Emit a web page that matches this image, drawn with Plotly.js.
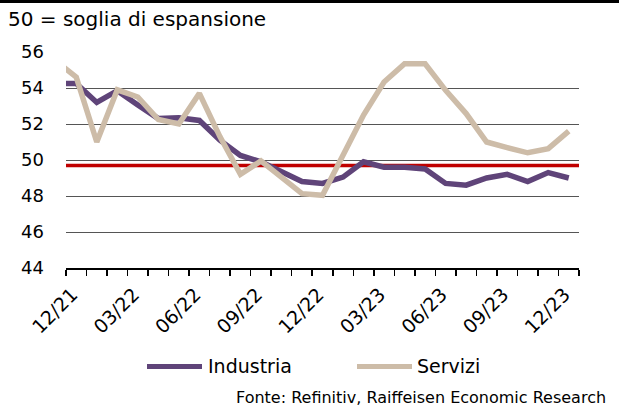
<!DOCTYPE html>
<html>
<head>
<meta charset="utf-8">
<script src="https://cdn.plot.ly/plotly-3.0.1.min.js"></script>
<style>
  html, body { margin: 0; padding: 0; background: #fff; }
  #chart { width: 619px; height: 417px; }
</style>
</head>
<body>
<div id="chart"></div>
<script>
// ---- Data ----
const months = ['11/21','12/21','01/22','02/22','03/22','04/22','05/22','06/22','07/22','08/22','09/22','10/22','11/22',
                '12/22','01/23','02/23','03/23','04/23','05/23','06/23','07/23','08/23','09/23','10/23','11/23','12/23'];
const industria = [54.25, 54.25, 53.2, 53.85, 53.05, 52.3, 52.35, 52.2, 51.1, 50.25, 49.9, 49.35, 48.8,
                   48.7, 49.05, 49.9, 49.6, 49.6, 49.5, 48.7, 48.6, 49.0, 49.2, 48.8, 49.3, 49.0];
const servizi   = [55.5, 54.6, 51.0, 53.9, 53.5, 52.25, 52.0, 53.7, 51.3, 49.2, 49.95, 49.05, 48.13,
                   48.04, 50.3, 52.5, 54.33, 55.35, 55.35, 53.87, 52.58, 51.0, 50.69, 50.4, 50.63, 51.6];
const seriesNames = ['Industria', 'Servizi'];
const tickLabels = ['12/21','03/22','06/22','09/22','12/22','03/23','06/23','09/23','12/23'];
const yTicks = [44, 46, 48, 50, 52, 54, 56];
const threshold = 49.7;
const titleText = '50 = soglia di espansione';
const sourceText = 'Fonte: Refinitiv, Raiffeisen Economic Research';

// ---- Layout helpers ----
const W = 619, H = 417;
const M = {l: 66, r: 40, t: 52, b: 149};
const plotW = W - M.l - M.r, plotH = H - M.t - M.b;
const px2x = px => (px - M.l) / plotW;
const py2y = py => (H - M.b - py) / plotH;
const labelShift = -0.2; // small horizontal nudge of rotated tick labels

const firstIdx = months.indexOf('12/21');
const xs = months.map((m, i) => i - firstIdx);
const tickvals = tickLabels.map(l => months.indexOf(l) - firstIdx + labelShift);

const FONT = 'DejaVu Sans, sans-serif';
const purple = '#5f4479';
const beige = '#cdbca8';
const red = '#c00000';

const traces = [
  {x: xs, y: industria, name: seriesNames[0], type: 'scatter', mode: 'lines',
   line: {color: purple, width: 5.5}, showlegend: false, hoverinfo: 'skip'},
  {x: xs, y: servizi, name: seriesNames[1], type: 'scatter', mode: 'lines',
   line: {color: beige, width: 5.5}, showlegend: false, hoverinfo: 'skip'}
];

const layout = {
  width: W, height: H,
  margin: M,
  paper_bgcolor: '#fff', plot_bgcolor: '#fff',
  font: {family: FONT, color: '#000', size: 18},
  title: {text: titleText, font: {family: FONT, size: 20, color: '#000'},
          x: 8 / W, xanchor: 'left', xref: 'container',
          y: 1 - 19 / H, yanchor: 'middle', yref: 'container', pad: {l: 0, t: 0}},
  xaxis: {
    type: 'linear', range: [-0.5, 24.5], showgrid: false, zeroline: false,
    showline: true, linecolor: '#000', linewidth: 2,
    tickmode: 'array', tickvals: tickvals, ticktext: tickLabels,
    ticks: '', tickangle: -45, ticklabelstandoff: 6,
    tickfont: {family: FONT, size: 19, color: '#000'},
    minor: {ticks: 'outside', ticklen: 6, tickwidth: 1.5, tickcolor: '#000',
            tickmode: 'linear', tick0: -0.5, dtick: 1, showgrid: false},
    fixedrange: true
  },
  yaxis: {
    range: [44, 56], tickmode: 'array', tickvals: yTicks,
    showgrid: true, gridcolor: '#555', gridwidth: 1, zeroline: false,
    showline: false, ticks: '', ticklabelstandoff: 21,
    tickfont: {family: FONT, size: 18, color: '#000'}, fixedrange: true
  },
  shapes: [
    // threshold line
    {type: 'line', xref: 'paper', yref: 'y', x0: 0, x1: 1, y0: threshold, y1: threshold,
     line: {color: red, width: 3.5}, layer: 'below'},
    // top border
    {type: 'line', xref: 'paper', yref: 'paper', x0: px2x(0), x1: px2x(W), y0: py2y(1.5), y1: py2y(1.5),
     line: {color: '#000', width: 3}},
    // legend samples
    {type: 'line', xref: 'paper', yref: 'paper', x0: px2x(147), x1: px2x(202), y0: py2y(366.5), y1: py2y(366.5),
     line: {color: purple, width: 5}},
    {type: 'line', xref: 'paper', yref: 'paper', x0: px2x(357), x1: px2x(412), y0: py2y(366.5), y1: py2y(366.5),
     line: {color: beige, width: 5}}
  ],
  annotations: [
    {text: seriesNames[0], xref: 'paper', yref: 'paper', x: px2x(206), y: py2y(366), xanchor: 'left', yanchor: 'middle',
     showarrow: false, font: {family: FONT, size: 19, color: '#000'}},
    {text: seriesNames[1], xref: 'paper', yref: 'paper', x: px2x(415), y: py2y(366), xanchor: 'left', yanchor: 'middle',
     showarrow: false, font: {family: FONT, size: 19, color: '#000'}},
    {text: sourceText, xref: 'paper', yref: 'paper', x: px2x(608), y: py2y(397), xanchor: 'right', yanchor: 'middle',
     showarrow: false, font: {family: FONT, size: 16, color: '#000'}}
  ]
};

Plotly.newPlot('chart', traces, layout, {staticPlot: true, displayModeBar: false});
</script>
</body>
</html>
